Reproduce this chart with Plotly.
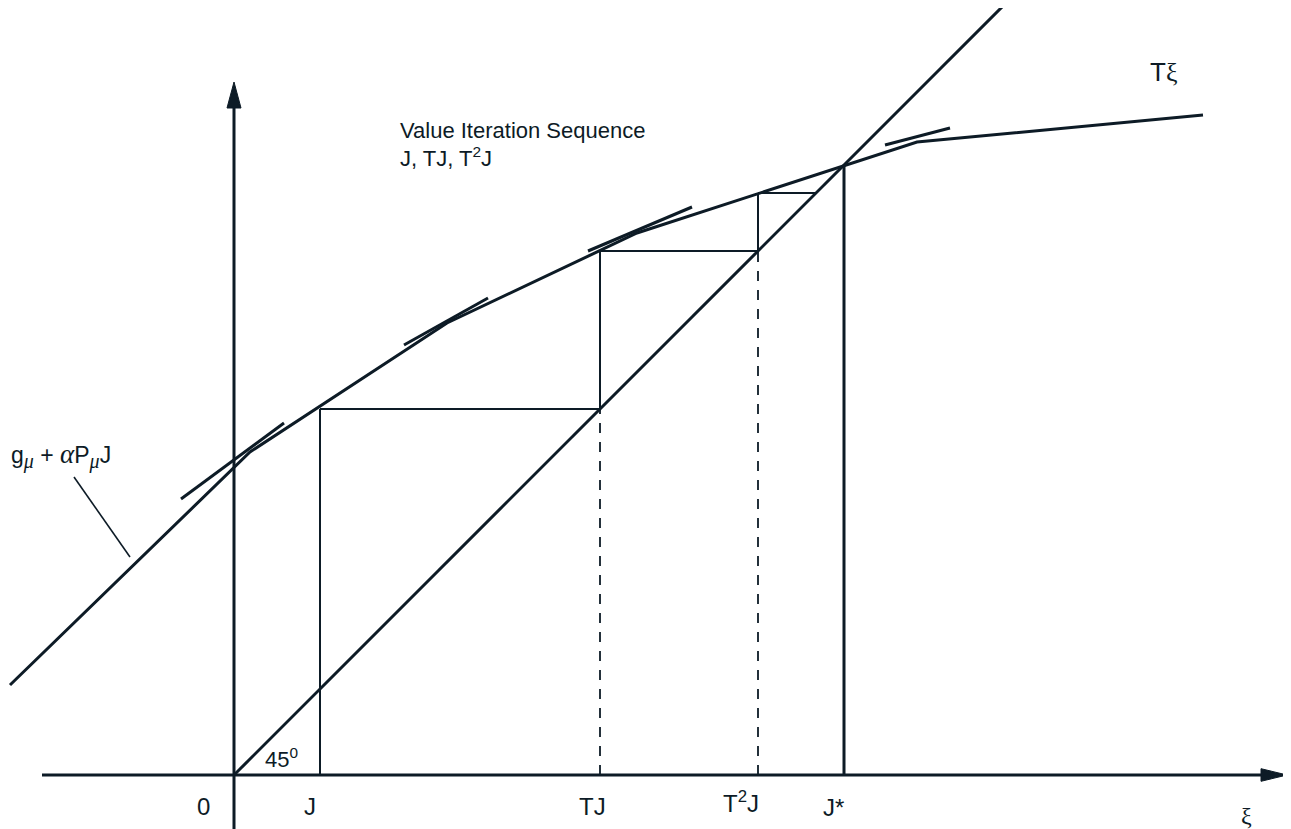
import plotly.graph_objects as go

INK = "#0d1b26"
SANS = "Liberation Sans, Arial, sans-serif"
SERIF = "Liberation Serif, Times New Roman, serif"

# T(xi): piecewise-linear concave curve, vertices
curve_x = [-2.24, 0.16, 2.13, 4.03, 6.83, 9.69]
curve_y = [0.90, 3.23, 4.52, 5.42, 6.33, 6.60]

# short tangent pieces (g_mu + alpha P_mu J lines)
tan_x0 = [-0.53, 1.70, 3.54, 6.51]
tan_y0 = [2.76, 4.30, 5.24, 6.30]
tan_x1 = [0.50, 2.54, 4.58, 7.16]
tan_y1 = [3.52, 4.77, 5.68, 6.47]

# value iteration: J, TJ, T^2J, T^3J and the fixed point
iterates = [0.86, 3.66, 5.24, 5.82]
j_star = 6.10

# axis extents
x_axis_lo, x_axis_hi = -1.92, 10.53
y_axis_lo, y_axis_hi = -0.54, 6.93
diag_hi = 7.75
head_len, head_half = 0.26, 0.07

# pointer from the label to the leftmost line
pointer_x = [-1.60, -1.04]
pointer_y = [2.98, 2.18]

tick_text = ["0", "J", "TJ", "T<sup>2</sup>J", "J*"]
tick_x = [-0.31, 0.76, 3.58, 5.07, 5.99]
tick_y = [-0.31, -0.31, -0.31, -0.27, -0.32]

fig = go.Figure()


def seg(xs, ys, width=3, dash="solid"):
    fig.add_trace(go.Scatter(
        x=xs, y=ys, mode="lines",
        line=dict(color=INK, width=width, dash=dash),
        hoverinfo="skip", showlegend=False,
    ))


def head(xs, ys):
    fig.add_trace(go.Scatter(
        x=xs, y=ys, mode="lines", fill="toself", fillcolor=INK,
        line=dict(color=INK, width=1),
        hoverinfo="skip", showlegend=False,
    ))


# -- axes with arrow heads ------------------------------------------
seg([x_axis_lo, x_axis_hi - head_len], [0, 0])
head([x_axis_hi - head_len, x_axis_hi, x_axis_hi - head_len, x_axis_hi - head_len],
     [-head_half * 0.9, 0, head_half * 0.9, -head_half * 0.9])
seg([0, 0], [y_axis_lo, y_axis_hi - head_len])
head([-head_half, 0, head_half, -head_half],
     [y_axis_hi - head_len, y_axis_hi, y_axis_hi - head_len, y_axis_hi - head_len])

# -- 45 degree line and T(xi) ----------------------------------------
seg([0, diag_hi], [0, diag_hi])
seg(curve_x, curve_y)
for a, b, c, d in zip(tan_x0, tan_y0, tan_x1, tan_y1):
    seg([a, c], [b, d])

# -- staircase --------------------------------------------------------
seg([iterates[0], iterates[0]], [0, iterates[1]], width=2)
for i in range(1, 3):
    seg([iterates[i], iterates[i]], [0, iterates[i]], width=1.8, dash="10px,9px")
    seg([iterates[i], iterates[i]], [iterates[i], iterates[i + 1]], width=2)
for i in range(3):
    seg([iterates[i], iterates[i + 1]], [iterates[i + 1], iterates[i + 1]], width=2)
seg([j_star, j_star], [0, j_star], width=3)

seg(pointer_x, pointer_y, width=1.6)

# -- text -------------------------------------------------------------
def label(x, y, text, size, xanchor="left", family=SANS):
    fig.add_annotation(x=x, y=y, text=text, showarrow=False,
                       xanchor=xanchor, yanchor="middle",
                       font=dict(family=family, size=size, color=INK))


for t, x, y in zip(tick_text, tick_x, tick_y):
    label(x, y, t, 24, xanchor="center")

GR = "<span style='font-family:Liberation Serif'>{}</span>"
MU = "<sub><span style='font-family:Liberation Serif;font-style:italic;font-size:20px'>μ</span></sub>"
ALPHA = "<span style='font-family:Liberation Serif;font-style:italic;font-size:27px'>α</span>"

label(1.64, 6.45, "Value Iteration Sequence", 22)
label(1.64, 6.18, "J, TJ, T<sup>2</sup>J", 22)
label(9.14, 7.03, "T" + GR.format("ξ"), 26)
label(0.29, 0.17, "45<sup>0</sup>", 22)
label(10.12, -0.41, "ξ", 24, xanchor="center", family=SERIF)
label(-2.25, 3.19, "g" + MU + " + " + ALPHA + "P" + MU + "J", 23)

# the page adds an 8px body margin, so the figure is 8px smaller and the
# ranges are shifted to keep the origin at the same place on screen
fig.update_layout(
    width=1283, height=821,
    margin=dict(l=0, r=0, t=0, b=0),
    plot_bgcolor="white", paper_bgcolor="white",
    xaxis=dict(range=[-2.26, 10.57], visible=False, fixedrange=True),
    yaxis=dict(range=[-0.54, 7.67], visible=False, fixedrange=True),
    showlegend=False,
)
fig.write_html("out.html")
